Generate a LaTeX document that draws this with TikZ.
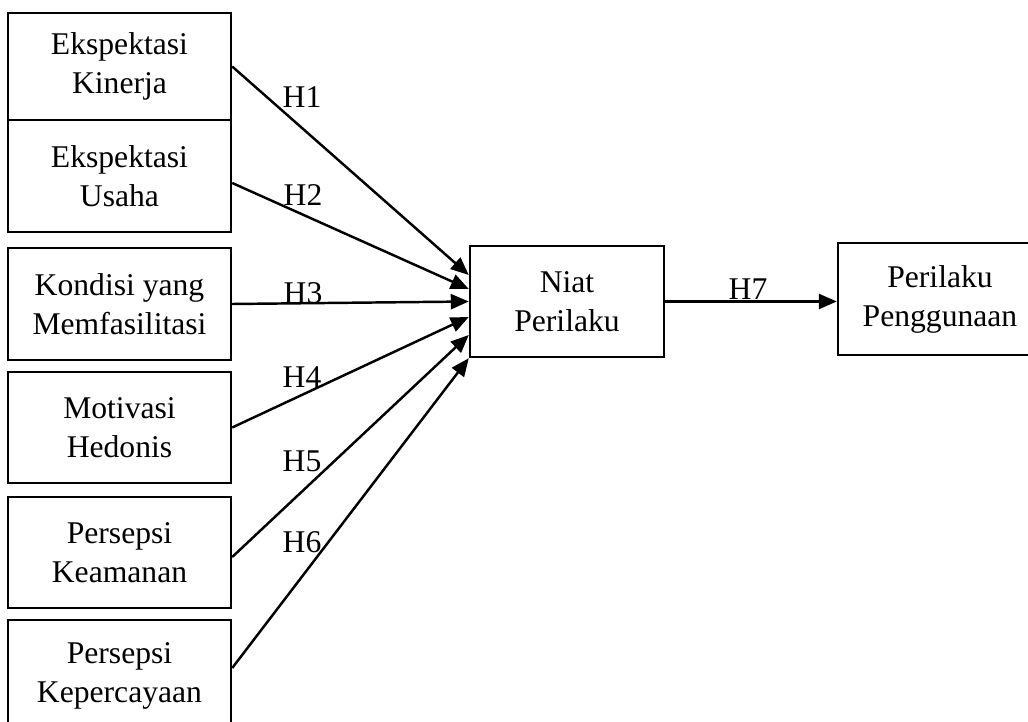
\documentclass[tikz,border=0pt]{standalone}
\usepackage{fontspec}
\setmainfont{Liberation Serif}
\usetikzlibrary{arrows.meta}
\tikzset{
    varbox/.style={draw, line width=1.4pt, align=center, inner sep=0pt,
        font=\fontsize{18}{22.2}\selectfont, minimum width=4.46cm},
    hlabel/.style={font=\fontsize{18}{22.2}\selectfont, inner sep=0pt},
    panah/.style={line width=1.4pt, -{Triangle[length=0.36cm, width=0.3cm]}}
}
\begin{document}
\begin{tikzpicture}[x=0.02cm, y=-0.02cm]
            \useasboundingbox (0,0) rectangle (1028,722);
            \node[varbox, minimum height=2.14cm] (EK) at (119.5,66.5) {Ekspektasi\\Kinerja};
            \node[varbox, minimum height=2.24cm] (EU) at (119.5,176) {Ekspektasi\\Usaha};
            \node[varbox, minimum height=2.24cm] (KM) at (119.5,304) {Kondisi yang\\Memfasilitasi};
            \node[varbox, minimum height=2.22cm] (MH) at (119.5,427.5) {Motivasi\\Hedonis};
            \node[varbox, minimum height=2.22cm] (PK) at (119.5,552.5) {Persepsi\\Keamanan};
            \node[varbox, minimum height=2.22cm] (PC) at (119.5,675.5) {Persepsi\\Kepercayaan};
            \node[varbox, minimum width=3.88cm, minimum height=2.22cm] (NP) at (567,301.5) {Niat\\Perilaku};
            \node[varbox, minimum width=4.08cm, minimum height=2.24cm] (PP) at (940,299) {Perilaku\\Penggunaan};

            \node[hlabel] (h1) at (302,97) {H1};
            \node[hlabel] (h2) at (303,195) {H2};
            \node[hlabel] (h3) at (303,293) {H3};
            \node[hlabel] (h4) at (302,377) {H4};
            \node[hlabel] (h5) at (302,461) {H5};
            \node[hlabel] (h6) at (302,542) {H6};
            \node[hlabel] (h7) at (748,289) {H7};

            \draw[panah] (EK.east) -- ([yshift=0.53cm]NP.west);
            \draw[panah] ([yshift=-0.14cm]EU.east) -- ([yshift=0.25cm]NP.west);
            \draw[panah] (KM.east) -- (NP.west);
            \draw[panah] (MH.east) -- ([yshift=-0.31cm]NP.west);
            \draw[panah] ([yshift=-0.09cm]PK.east) -- ([yshift=-0.67cm]NP.west);
            \draw[panah] ([yshift=0.15cm]PC.east) -- (NP.south west);
            \draw[panah] (NP.east) -- (NP.east -| PP.west);
        \end{tikzpicture}
\end{document}
